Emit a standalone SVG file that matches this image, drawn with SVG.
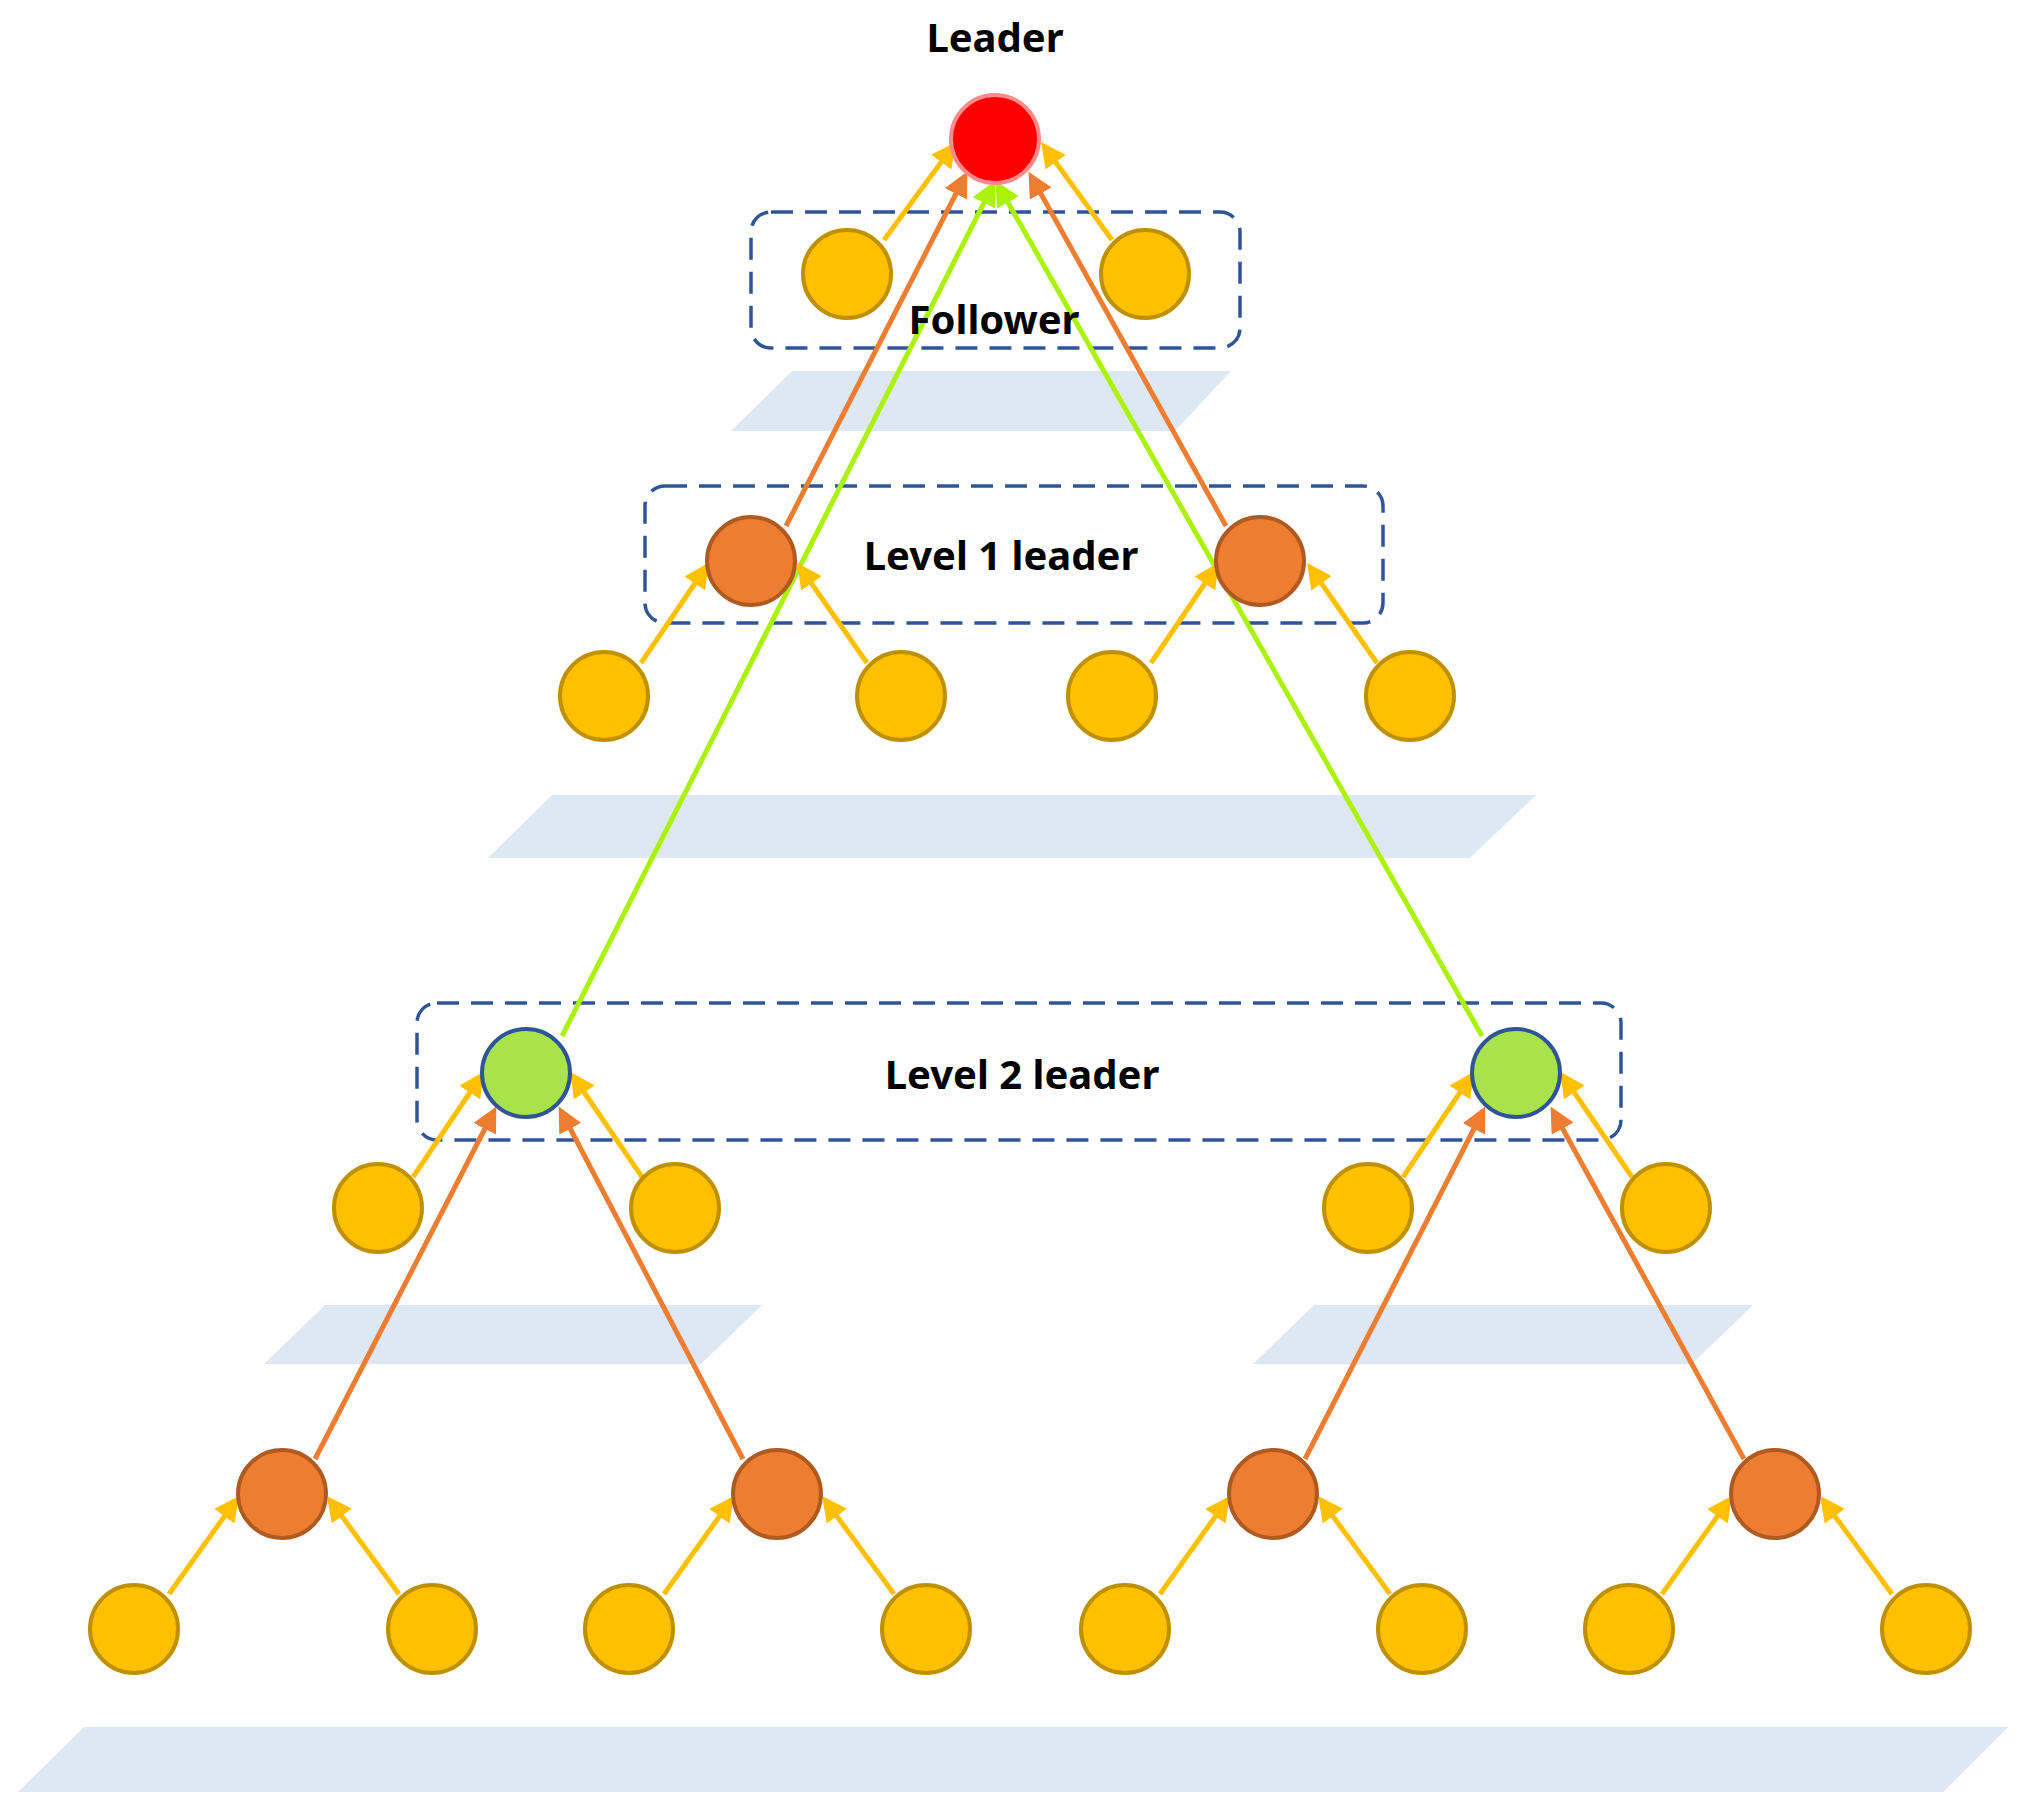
<svg xmlns="http://www.w3.org/2000/svg" width="2026" height="1812" viewBox="0 0 2026 1812">
<style>
.plane{fill:#DEE8F4}
.box{fill:none;stroke:#2F5597;stroke-width:3.5;stroke-dasharray:22 12}
.y{fill:#FFC000;stroke:#BF9000;stroke-width:4}
.o{fill:#ED7D31;stroke:#AE5A21;stroke-width:4}
.g{fill:#A9E34B;stroke:#2F5597;stroke-width:4}
.r{fill:#FF0000;stroke:#FF8A8A;stroke-width:4}
.ey{stroke:#FFC000;stroke-width:5;fill:none;marker-end:url(#ay)}
.eo{stroke:#ED7D31;stroke-width:5;fill:none;marker-end:url(#ao)}
.eg{stroke:#AAF20A;stroke-width:5;fill:none;marker-end:url(#ag)}
text{font-family:"Noto Sans","DejaVu Sans",sans-serif;font-weight:bold;font-size:40px;fill:#000;text-anchor:middle}
</style>
<defs>
<marker id="ay" viewBox="0 0 10 10" refX="8" refY="5" markerWidth="5" markerHeight="5" orient="auto"><path d="M0,0L10,5L0,10z" fill="#FFC000"/></marker>
<marker id="ao" viewBox="0 0 10 10" refX="8" refY="5" markerWidth="5" markerHeight="5" orient="auto"><path d="M0,0L10,5L0,10z" fill="#ED7D31"/></marker>
<marker id="ag" viewBox="0 0 10 10" refX="8" refY="5" markerWidth="5" markerHeight="5" orient="auto"><path d="M0,0L10,5L0,10z" fill="#AAF20A"/></marker>
</defs>
<g id="planes">
<polygon class="plane" points="792,371 1231,371 1175,431 731,431"/>
<polygon class="plane" points="552,795 1536,795 1470,858 488,858"/>
<polygon class="plane" points="325,1305 762,1305 701,1364 264,1364"/>
<polygon class="plane" points="1314,1305 1753,1305 1692,1364 1253,1364"/>
<polygon class="plane" points="84,1727 2008,1727 1943,1792 18,1792"/>
</g>
<g id="boxes">
<rect class="box" x="751" y="212" width="489" height="136" rx="20"/>
<rect class="box" x="645" y="486" width="738" height="137" rx="20"/>
<rect class="box" x="417" y="1003" width="1204" height="137" rx="20"/>
</g>
<g id="connectors">
<line class="ey" x1="884" y1="240" x2="953" y2="146"/>
<line class="ey" x1="1112" y1="240" x2="1044" y2="146"/>
<line class="eo" x1="786" y1="526" x2="965" y2="176"/>
<line class="eo" x1="1226" y1="526" x2="1031" y2="176"/>
<line class="eg" x1="562" y1="1036" x2="993" y2="185"/>
<line class="eg" x1="1482" y1="1036" x2="998" y2="185"/>
<line class="ey" x1="641" y1="663" x2="706" y2="567"/>
<line class="ey" x1="867" y1="663" x2="800" y2="567"/>
<line class="ey" x1="1151" y1="663" x2="1216" y2="567"/>
<line class="ey" x1="1377" y1="663" x2="1310" y2="567"/>
<line class="ey" x1="413" y1="1177" x2="481" y2="1076"/>
<line class="ey" x1="642" y1="1177" x2="573" y2="1076"/>
<line class="ey" x1="1403" y1="1177" x2="1471" y2="1076"/>
<line class="ey" x1="1632" y1="1177" x2="1563" y2="1076"/>
<line class="eo" x1="315" y1="1459" x2="494" y2="1111"/>
<line class="eo" x1="743" y1="1459" x2="561" y2="1111"/>
<line class="eo" x1="1305" y1="1459" x2="1483" y2="1111"/>
<line class="eo" x1="1744" y1="1459" x2="1553" y2="1111"/>
<line class="ey" x1="169" y1="1594" x2="236" y2="1500"/>
<line class="ey" x1="399" y1="1594" x2="330" y2="1500"/>
<line class="ey" x1="664" y1="1594" x2="731" y2="1500"/>
<line class="ey" x1="894" y1="1594" x2="825" y2="1500"/>
<line class="ey" x1="1160" y1="1594" x2="1227" y2="1500"/>
<line class="ey" x1="1390" y1="1594" x2="1321" y2="1500"/>
<line class="ey" x1="1662" y1="1594" x2="1729" y2="1500"/>
<line class="ey" x1="1892" y1="1594" x2="1823" y2="1500"/>
</g>
<g id="leader"><circle class="r" cx="995" cy="139" r="44"/></g>
<g id="f1"><circle class="y" cx="847" cy="274" r="44"/></g>
<g id="f2"><circle class="y" cx="1145" cy="274" r="44"/></g>
<g id="l1a"><circle class="o" cx="751" cy="561" r="44"/></g>
<g id="l1b"><circle class="o" cx="1260" cy="561" r="44"/></g>
<g id="l1f1"><circle class="y" cx="604" cy="696" r="44"/></g>
<g id="l1f2"><circle class="y" cx="901" cy="696" r="44"/></g>
<g id="l1f3"><circle class="y" cx="1112" cy="696" r="44"/></g>
<g id="l1f4"><circle class="y" cx="1410" cy="696" r="44"/></g>
<g id="l2a"><circle class="g" cx="526" cy="1073" r="44"/></g>
<g id="l2b"><circle class="g" cx="1516" cy="1073" r="44"/></g>
<g id="l2f1"><circle class="y" cx="378" cy="1208" r="44"/></g>
<g id="l2f2"><circle class="y" cx="675" cy="1208" r="44"/></g>
<g id="l2f3"><circle class="y" cx="1368" cy="1208" r="44"/></g>
<g id="l2f4"><circle class="y" cx="1666" cy="1208" r="44"/></g>
<g id="o1"><circle class="o" cx="282" cy="1494" r="44"/></g>
<g id="o2"><circle class="o" cx="777" cy="1494" r="44"/></g>
<g id="o3"><circle class="o" cx="1273" cy="1494" r="44"/></g>
<g id="o4"><circle class="o" cx="1775" cy="1494" r="44"/></g>
<g id="leaf1"><circle class="y" cx="134" cy="1629" r="44"/></g>
<g id="leaf2"><circle class="y" cx="432" cy="1629" r="44"/></g>
<g id="leaf3"><circle class="y" cx="629" cy="1629" r="44"/></g>
<g id="leaf4"><circle class="y" cx="926" cy="1629" r="44"/></g>
<g id="leaf5"><circle class="y" cx="1125" cy="1629" r="44"/></g>
<g id="leaf6"><circle class="y" cx="1422" cy="1629" r="44"/></g>
<g id="leaf7"><circle class="y" cx="1629" cy="1629" r="44"/></g>
<g id="leaf8"><circle class="y" cx="1926" cy="1629" r="44"/></g>
<g id="labels">
<text x="995" y="52">Leader</text>
<text x="994" y="334">Follower</text>
<text x="1001" y="570">Level 1 leader</text>
<text x="1022" y="1089">Level 2 leader</text>
</g>
</svg>
